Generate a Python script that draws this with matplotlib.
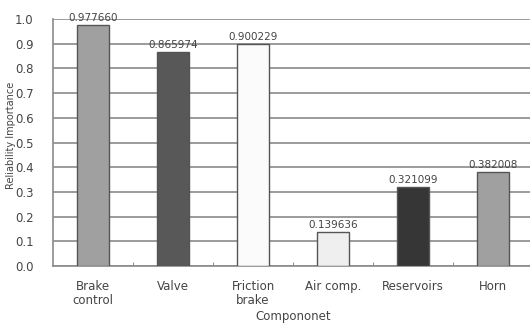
import matplotlib.pyplot as plt
import numpy as np

components = ["Brake\ncontrol", "Valve", "Friction\nbrake", "Air comp.", "Reservoirs", "Horn"]
importance = [0.977660, 0.865974, 0.900229, 0.139636, 0.321099, 0.382008]
bar_colors = ["#a0a0a0", "#585858", "#fbfbfb", "#efefef", "#363636", "#a0a0a0"]

plt.rcParams["font.family"] = ["DejaVu Sans"]

fig = plt.figure(figsize=(5.3, 3.3), dpi=100)
ax = fig.add_axes([53 / 530, 64 / 330, 480 / 530, 247 / 330])

x = np.arange(len(components))
bars = ax.bar(x, importance, width=0.41, color=bar_colors,
              edgecolor="#555555", linewidth=1.0, zorder=3)

for xi, v in zip(x, importance):
    ax.text(xi, v + 0.008, f"{v:.6f}", ha="center", va="bottom",
            fontsize=7.5, color="#444444")

ax.set_xlim(-0.5, len(components) - 0.5)
ax.set_ylim(0, 1.0)
ax.set_yticks(np.arange(0, 1.01, 0.1))
ax.set_yticklabels([f"{t:.1f}" for t in np.arange(0, 1.01, 0.1)])
ax.yaxis.grid(True, color="#8a8a8a", linewidth=1.2, zorder=0)
ax.set_axisbelow(True)

ax.set_xticks(x)
ax.set_xticklabels(components, linespacing=1.1)
ax.set_xticks(np.arange(0.5, len(components) - 0.5), minor=True)
ax.tick_params(axis="x", which="major", length=0, pad=10,
               labelsize=8.5, labelcolor="#444444")
ax.tick_params(axis="x", which="minor", direction="in", length=3,
               color="#777777")
ax.tick_params(axis="y", length=0, pad=14, labelsize=8.5, labelcolor="#444444")

for side in ["top", "right"]:
    ax.spines[side].set_visible(False)
for side in ["left", "bottom"]:
    ax.spines[side].set_color("#8a8a8a")
    ax.spines[side].set_linewidth(1.2)

ax.set_xlabel("Compononet", fontsize=8.5, color="#444444", labelpad=2)
ax.set_ylabel("Reliability Importance", fontsize=7, color="#444444")
ax.yaxis.set_label_coords(-0.078, 0.53)

fig.savefig("out.png", dpi=100)
